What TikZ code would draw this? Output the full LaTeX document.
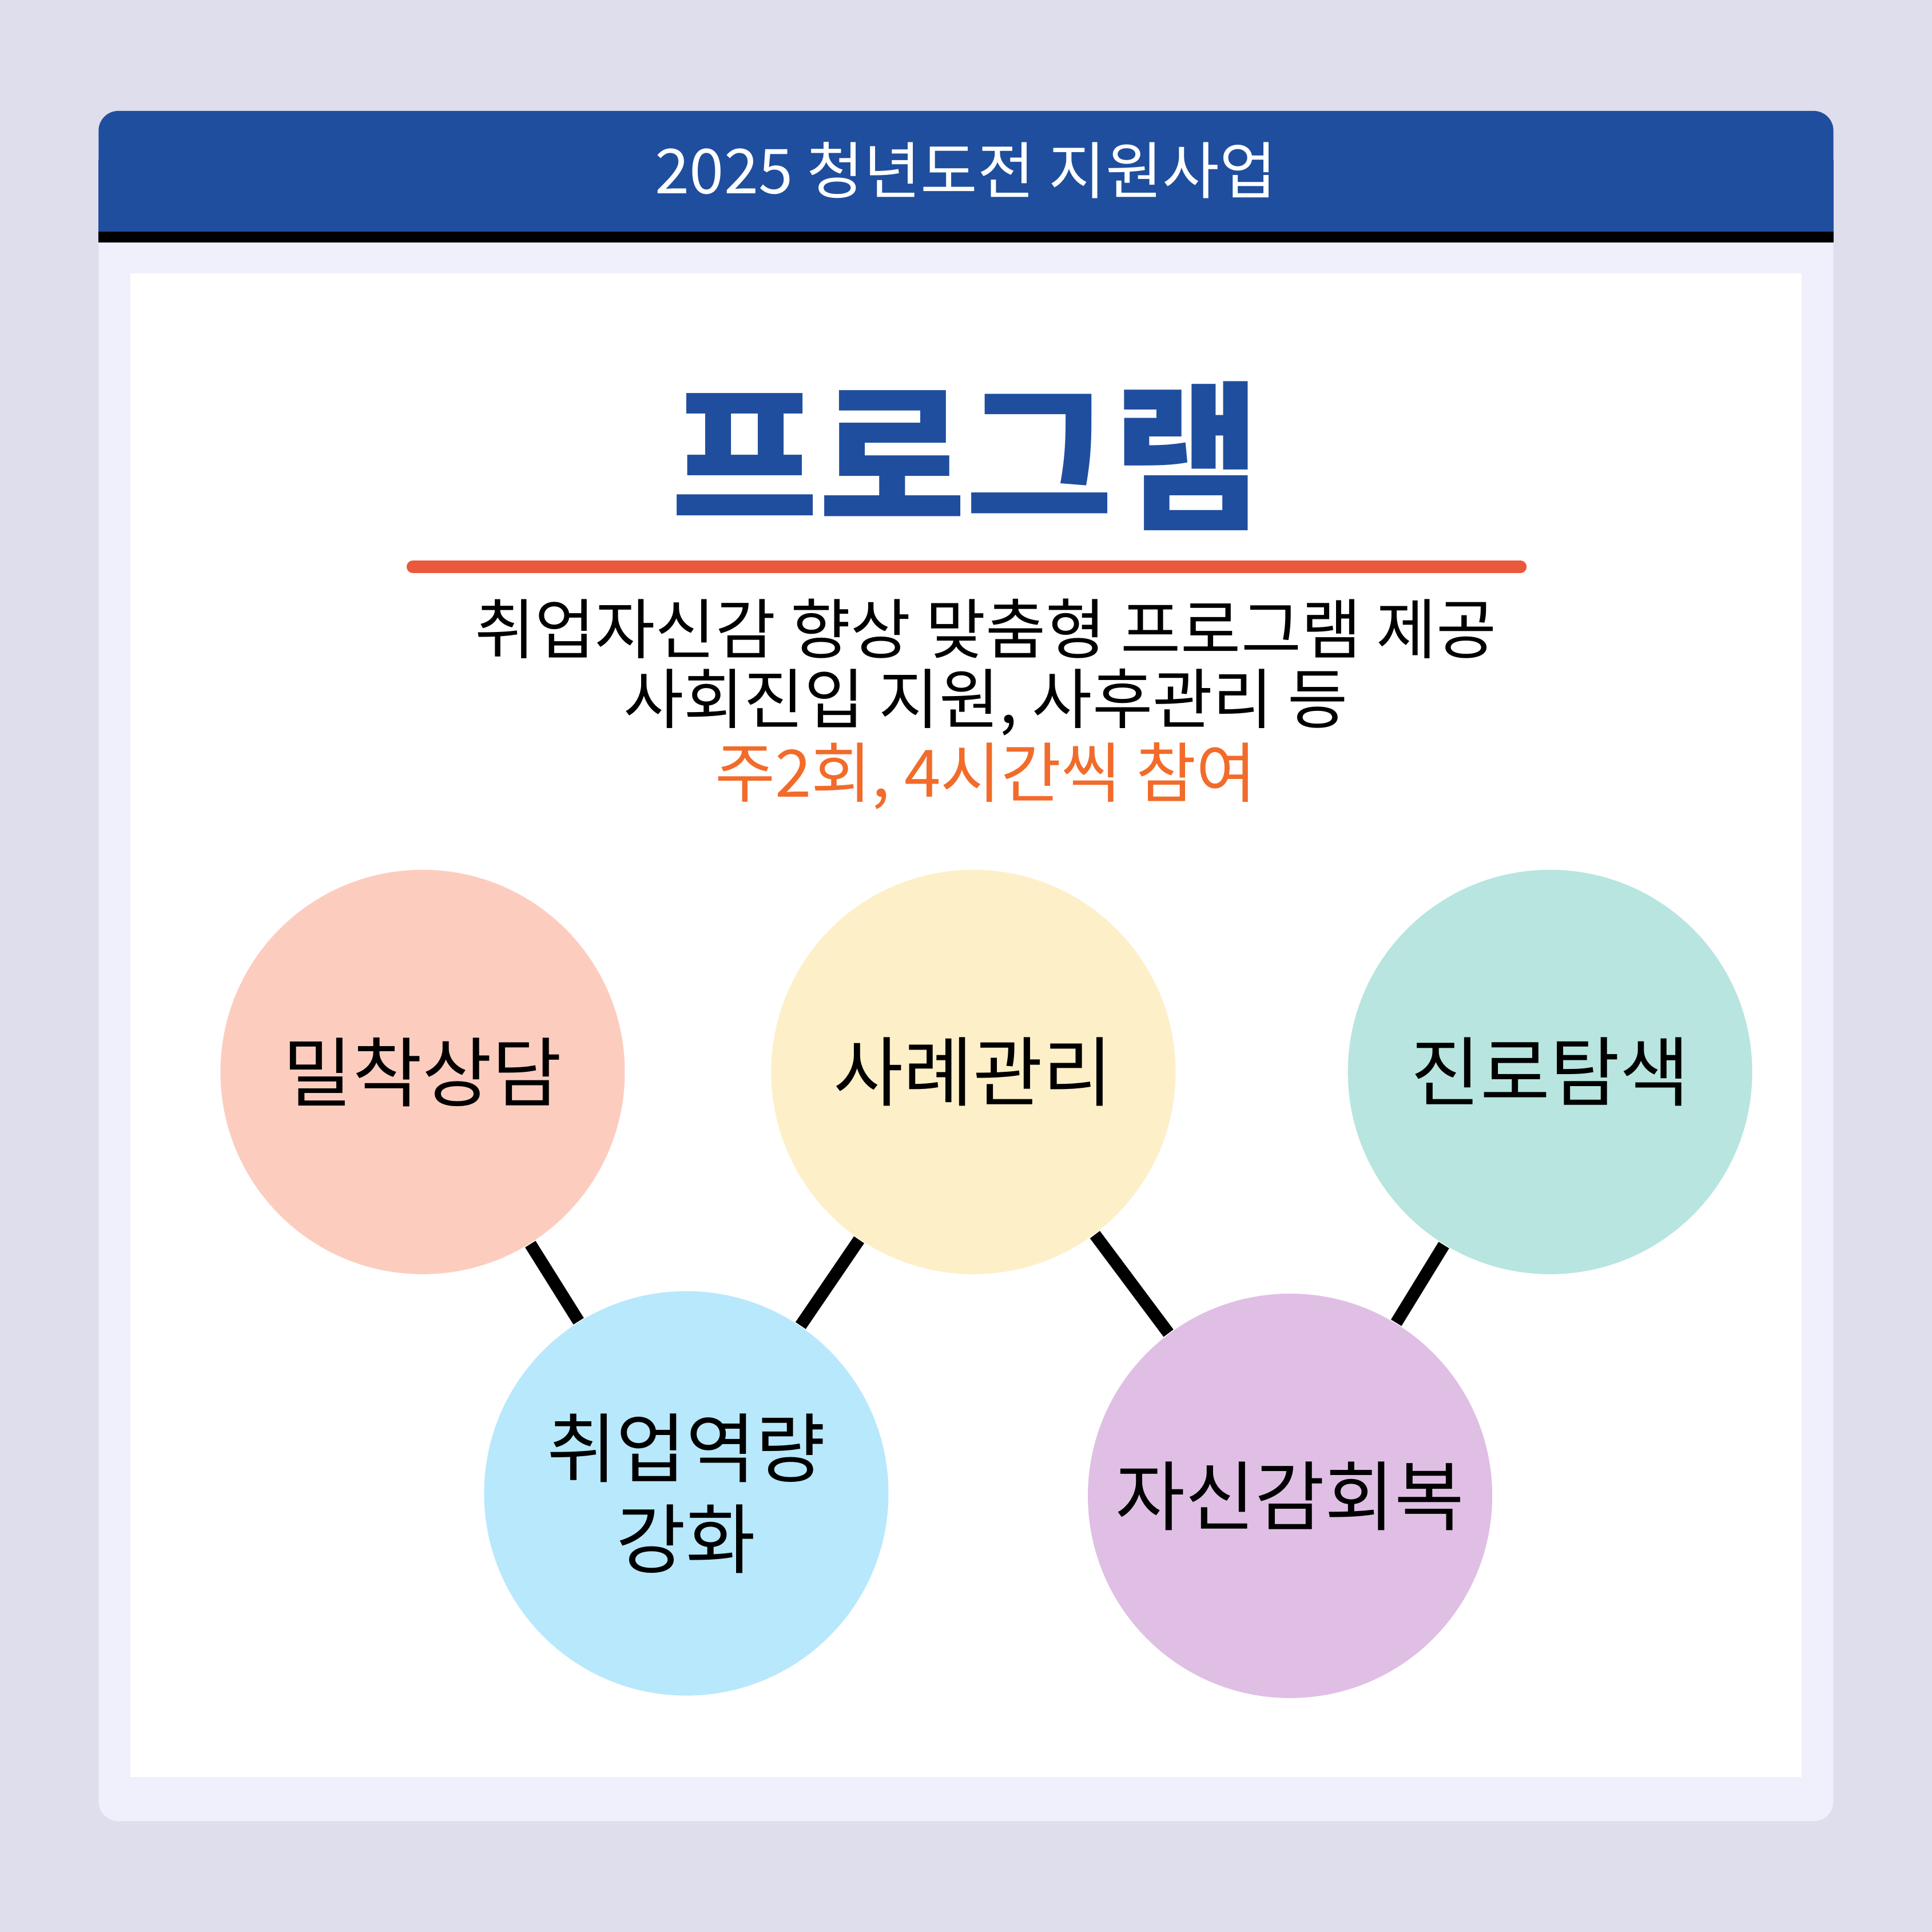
\documentclass[tikz,border=0pt]{standalone}
\usepackage{fontspec}
\setmainfont{Noto Sans CJK KR}
\newfontfamily\kr{Noto Sans CJK KR}
\newfontfamily\krb{Noto Sans CJK KR Black}[BoldFont={Noto Sans CJK KR Black}]
\definecolor{bgc}{RGB}{222,222,236}
\definecolor{cardc}{RGB}{240,240,252}
\definecolor{bluec}{RGB}{31,78,158}
\definecolor{redl}{RGB}{234,89,60}
\definecolor{orc}{RGB}{242,107,42}
\definecolor{c1}{RGB}{252,205,191}
\definecolor{c2}{RGB}{253,239,200}
\definecolor{c3}{RGB}{184,229,223}
\definecolor{c4}{RGB}{184,232,252}
\definecolor{c5}{RGB}{224,191,229}
\begin{document}
\begin{tikzpicture}[x=0.01cm,y=-0.01cm,
  bub/.style={circle,minimum size=3.28cm,inner sep=0pt,font=\kr\fontsize{17.5}{21}\selectfont,align=center},
  link/.style={line width=0.1cm,black}]
\fill[bgc] (0,0) rectangle (1568,1568);
\useasboundingbox (0,0) rectangle (1568,1568);
\fill[cardc,rounded corners=0.16cm] (80,90) rectangle (1488,1478);
\fill[bluec,rounded corners=0.16cm] (80,90) rectangle (1488,150);
\fill[bluec] (80,130) rectangle (1488,188);
\fill[black] (80,188) rectangle (1488,197);
\fill[white] (106,222) rectangle (1462,1442);
\node[text=white,font=\kr\fontsize{14.3}{18}\selectfont] (hd) at (784,138) {2025 청년도전 지원사업};
\node[text=bluec,font=\kr\bfseries\fontsize{37}{44}\selectfont] (tt) at (784,370) {\krb\bfseries 프로그램};
\draw[redl,line width=0.1cm,line cap=round] (335,460) coordinate (l1) -- (1234,460) coordinate (l2);
\node[font=\kr\fontsize{15.1}{18}\selectfont] (t1) at (800,510) {취업자신감 향상 맞춤형 프로그램 제공};
\node[font=\kr\fontsize{15.1}{18}\selectfont] (t2) at (800,570) {사회진입 지원, 사후관리 등};
\node[text=orc,font=\kr\fontsize{15.1}{18}\selectfont] (t3) at (800,630) {주2회, 4시간씩 참여};
\node[bub,fill=c1] (a) at (343,870) {밀착상담};
\node[bub,fill=c2] (b) at (790,870) {사례관리};
\node[bub,fill=c3] (c) at (1258,870) {진로탐색};
\node[bub,fill=c4] (d) at (557,1212) {취업역량\\강화};
\node[bub,fill=c5] (e) at (1047,1214) {자신감회복};
\draw[link] (a) -- (d);
\draw[link] (d) -- (b);
\draw[link] (b) -- (e);
\draw[link] (e) -- (c);
\end{tikzpicture}
\end{document}
